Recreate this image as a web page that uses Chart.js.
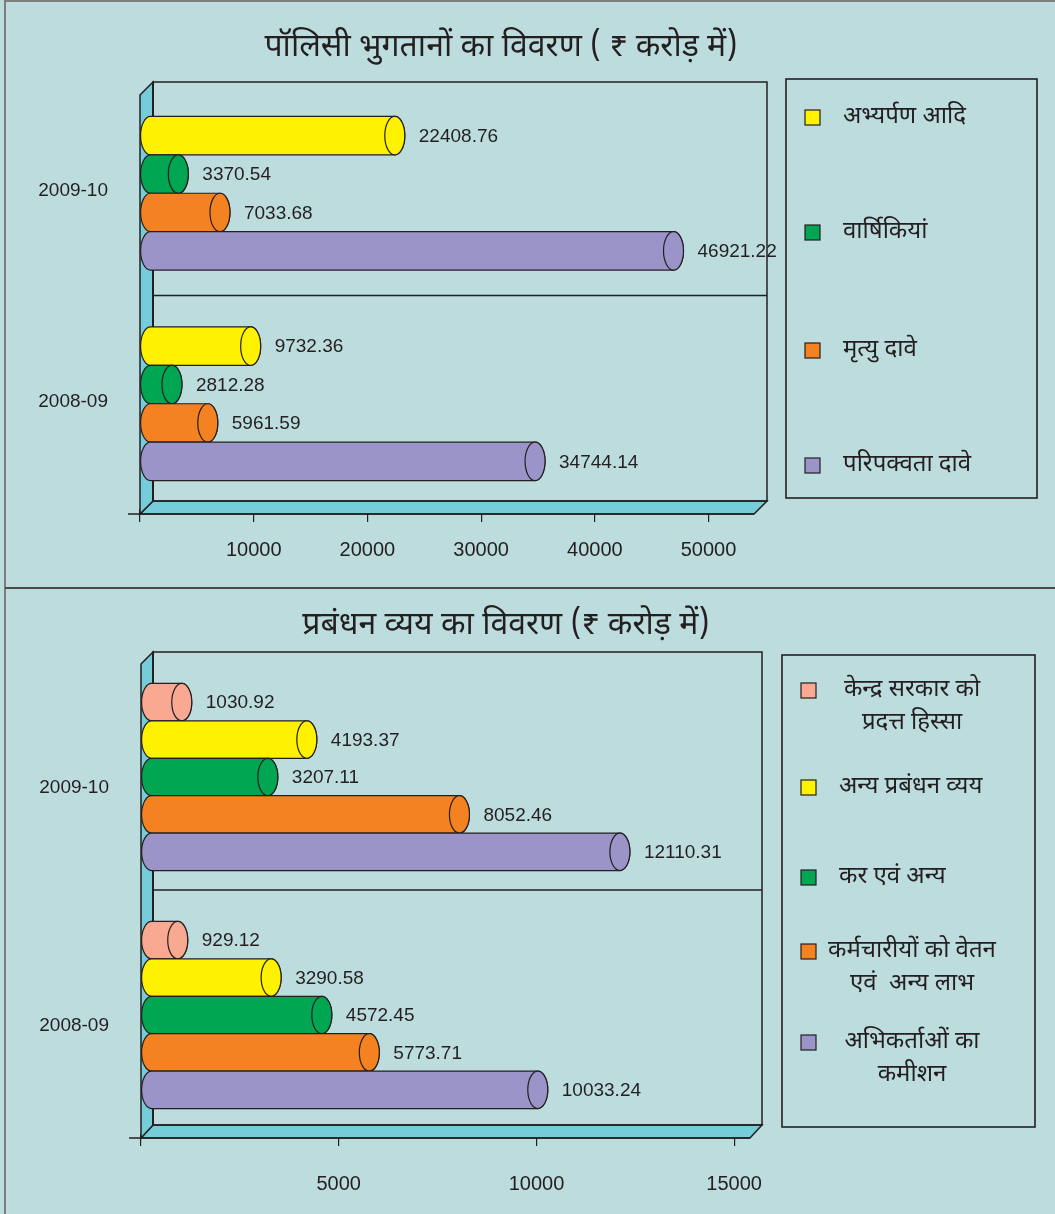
<!DOCTYPE html>
<html>
<head>
<meta charset="utf-8">
<script src="https://cdn.jsdelivr.net/npm/chart.js@4.4.1/dist/chart.umd.min.js"></script>
<style>
  body { margin: 0; background: #bddcdd; width: 1055px; height: 1214px; overflow: hidden; position: relative; }
  #border { position: absolute; left: 4px; top: 0; width: 1051px; height: 1214px; border-left: 2px solid #7d7d7d; border-top: 2px solid #7d7d7d; box-sizing: border-box; }
  #sep { position: absolute; left: 5px; top: 587px; width: 1050px; height: 2px; background: #4a4a4a; }
  canvas { position: absolute; left: 0; }
</style>
</head>
<body>
<div id="border"></div>
<div id="sep"></div>
<canvas id="payouts" width="1055" height="587" style="top:0"></canvas>
<canvas id="expenses" width="1055" height="624" style="top:590px"></canvas>
<script>
const years = ["2009-10", "2008-09"];

// policy payouts (Rs crore)
const payoutTitle = "पॉलिसी भुगतानों का विवरण ( ₹ करोड़ में)";
const payoutNames = [["अभ्यर्पण आदि"], ["वार्षिकियां"], ["मृत्यु दावे"], ["परिपक्वता दावे"]];
const surrender = [22408.76, 9732.36];
const annuities = [3370.54, 2812.28];
const deathClaims = [7033.68, 5961.59];
const maturityClaims = [46921.22, 34744.14];
const payoutTicks = [10000, 20000, 30000, 40000, 50000];

// management expenses (Rs crore)
const expenseTitle = "प्रबंधन व्यय का विवरण (₹ करोड़ में)";
const expenseNames = [["केन्द्र सरकार को", "प्रदत्त हिस्सा"], ["अन्य प्रबंधन व्यय"], ["कर एवं अन्य"],
                      ["कर्मचारीयों को वेतन", "एवं  अन्य लाभ"], ["अभिकर्ताओं का", "कमीशन"]];
const govtShare = [1030.92, 929.12];
const otherExpenses = [4193.37, 3290.58];
const taxes = [3207.11, 4572.45];
const salaries = [8052.46, 5773.71];
const commission = [12110.31, 10033.24];
const expenseTicks = [5000, 10000, 15000];

const numFont = '"Liberation Sans", Arial, sans-serif';
const hindiFont = '"Noto Sans Devanagari", "Noto Sans", "Lohit Devanagari", sans-serif';
const ink = "#231f20";
const wallColor = "#76ccd8";

/* 3d box behind the bars */
const framePlugin = {
  id: "frame",
  beforeDatasetsDraw(chart, args, o) {
    const ctx = chart.ctx, ca = chart.chartArea, d = o.depth;
    const fL = ca.left, fR = ca.right, fB = ca.bottom + o.frontOff;
    const bL = fL + d, bR = fR + d, bT = ca.top - 6, bB = ca.bottom - o.backOff;
    ctx.save();
    ctx.strokeStyle = ink;
    ctx.lineWidth = 1.5;
    ctx.fillStyle = wallColor;
    // floor
    ctx.beginPath();
    ctx.moveTo(fL, fB); ctx.lineTo(fR, fB); ctx.lineTo(bR, bB); ctx.lineTo(bL, bB); ctx.closePath();
    ctx.fill(); ctx.stroke();
    // left wall
    ctx.beginPath();
    ctx.moveTo(fL, bT + d); ctx.lineTo(bL, bT); ctx.lineTo(bL, bB); ctx.lineTo(fL, fB); ctx.closePath();
    ctx.fill(); ctx.stroke();
    // back wall
    ctx.strokeRect(bL, bT, bR - bL, bB - bT);
    ctx.lineWidth = 2;
    ctx.beginPath(); ctx.moveTo(bL, bT); ctx.lineTo(bL, bB); ctx.stroke();
    // line between the two years
    const ys = chart.scales.y;
    const mid = (ys.getPixelForValue(0) + ys.getPixelForValue(1)) / 2 + o.midShift;
    ctx.lineWidth = 1.3;
    ctx.beginPath(); ctx.moveTo(bL, mid); ctx.lineTo(bR, mid); ctx.stroke();
    // axis line
    ctx.lineWidth = 1.6;
    ctx.beginPath(); ctx.moveTo(fL - 12, fB); ctx.lineTo(fR, fB); ctx.stroke();
    ctx.restore();
  }
};

/* cylinders + value labels */
const cylinderPlugin = {
  id: "cylinders",
  afterDatasetsDraw(chart) {
    const ctx = chart.ctx;
    chart.data.datasets.forEach((ds, di) => {
      chart.getDatasetMeta(di).data.forEach((bar, i) => {
        const p = bar.getProps(["x", "y", "base", "height"], true);
        const ry = p.height / 2, rx = 10;
        const top = p.y - ry, bot = p.y + ry;
        const left = p.base + rx;
        ctx.save();
        ctx.fillStyle = ds.fillColor;
        ctx.strokeStyle = ink;
        ctx.lineWidth = 1.2;
        ctx.beginPath();
        ctx.moveTo(left, top);
        ctx.lineTo(p.x, top);
        ctx.ellipse(p.x, p.y, rx, ry, 0, -Math.PI / 2, Math.PI / 2);
        ctx.lineTo(left, bot);
        ctx.ellipse(left, p.y, rx, ry, 0, Math.PI / 2, Math.PI * 1.5);
        ctx.closePath();
        ctx.fill(); ctx.stroke();
        ctx.beginPath();
        ctx.ellipse(p.x, p.y, rx, ry, 0, 0, Math.PI * 2);
        ctx.fill(); ctx.stroke();
        ctx.fillStyle = ink;
        ctx.font = "19px " + numFont;
        ctx.textAlign = "left";
        ctx.textBaseline = "middle";
        ctx.fillText(ds.data[i].toFixed(2), p.x + rx + 14, p.y + 1);
        ctx.restore();
      });
    });
  }
};

/* title and boxed legend */
const sidePlugin = {
  id: "side",
  afterDraw(chart, args, o) {
    const ctx = chart.ctx;
    ctx.save();
    ctx.fillStyle = ink;
    ctx.font = "32px " + hindiFont;
    ctx.textAlign = "center";
    ctx.textBaseline = "middle";
    ctx.fillText(o.title, o.titleX, o.titleY);

    const b = o.box;
    ctx.strokeStyle = ink;
    ctx.lineWidth = 1.6;
    ctx.strokeRect(b.x, b.y, b.w, b.h);
    ctx.font = "24px " + hindiFont;
    chart.data.datasets.forEach((ds, i) => {
      const y = o.itemY[i];
      ctx.fillStyle = ds.fillColor;
      ctx.lineWidth = 1.2;
      ctx.fillRect(b.x + 19, y - 7, 15, 15);
      ctx.strokeRect(b.x + 19, y - 7, 15, 15);
      ctx.fillStyle = ink;
      const lines = ds.label;
      if (lines.length === 1) {
        ctx.textAlign = "left";
        ctx.fillText(lines[0], b.x + 57, y + 2);
      } else {
        ctx.textAlign = "center";
        lines.forEach((t, k) => ctx.fillText(t, b.x + 130, y + 2 + k * 33));
      }
    });
    ctx.restore();
  }
};

function buildChart(id, c) {
  return new Chart(document.getElementById(id), {
    type: "bar",
    data: {
      labels: years,
      datasets: c.series.map((s, i) => ({
        label: c.names[i],
        data: s,
        fillColor: c.colors[i],
        backgroundColor: "rgba(0,0,0,0)",
        borderWidth: 0,
        categoryPercentage: c.catPct,
        barPercentage: 1
      }))
    },
    options: {
      indexAxis: "y",
      responsive: false,
      animation: false,
      layout: { padding: { left: 0, right: c.padRight, top: c.padTop, bottom: 0 } },
      plugins: {
        legend: { display: false },
        tooltip: { enabled: false },
        frame: c.frame,
        side: c.side
      },
      scales: {
        x: {
          min: 0,
          max: c.max,
          afterBuildTicks: sc => { sc.ticks = [0].concat(c.ticks).map(v => ({ value: v })); },
          afterFit: sc => { sc.height = c.xHeight; },
          border: { display: false },
          grid: { drawOnChartArea: false, drawTicks: true, tickLength: c.tickLen, color: ink, lineWidth: 1.2 },
          ticks: {
            autoSkip: false, maxRotation: 0, padding: c.tickPad, color: ink,
            font: { family: numFont, size: 20 },
            callback: v => v === 0 ? "" : String(v)
          }
        },
        y: {
          afterFit: sc => { sc.width = c.left; },
          border: { display: false },
          grid: { display: false },
          ticks: { padding: 24, labelOffset: c.labelShift, color: ink, font: { family: numFont, size: 19 } }
        }
      }
    },
    plugins: [framePlugin, cylinderPlugin, sidePlugin]
  });
}

buildChart("payouts", {
  names: payoutNames,
  series: [surrender, annuities, deathClaims, maturityClaims],
  colors: ["#fff200", "#00a651", "#f58220", "#9b94c8"],
  ticks: payoutTicks,
  max: 54000,
  catPct: 0.73,
  left: 140, padRight: 301, padTop: 88, xHeight: 78,
  tickLen: 13, tickPad: 16,
  labelShift: -2,
  frame: { depth: 13, backOff: 8, frontOff: 5, midShift: -3 },
  side: {
    title: payoutTitle, titleX: 501, titleY: 50,
    box: { x: 786, y: 79, w: 251, h: 419 },
    itemY: [117, 232, 350, 465]
  }
});

buildChart("expenses", {
  names: expenseNames,
  series: [govtShare, otherExpenses, taxes, salaries, commission],
  colors: ["#f9a891", "#fff200", "#00a651", "#f58220", "#9b94c8"],
  ticks: expenseTicks,
  max: 15400,
  catPct: 0.786,
  left: 141, padRight: 305, padTop: 68, xHeight: 80,
  tickLen: 12, tickPad: 26,
  labelShift: 11,
  frame: { depth: 12, backOff: 9, frontOff: 4, midShift: -6 },
  side: {
    title: expenseTitle, titleX: 506, titleY: 38,
    box: { x: 782, y: 65, w: 253, h: 472 },
    itemY: [100, 197, 287, 361, 452]
  }
});
</script>
</body>
</html>
